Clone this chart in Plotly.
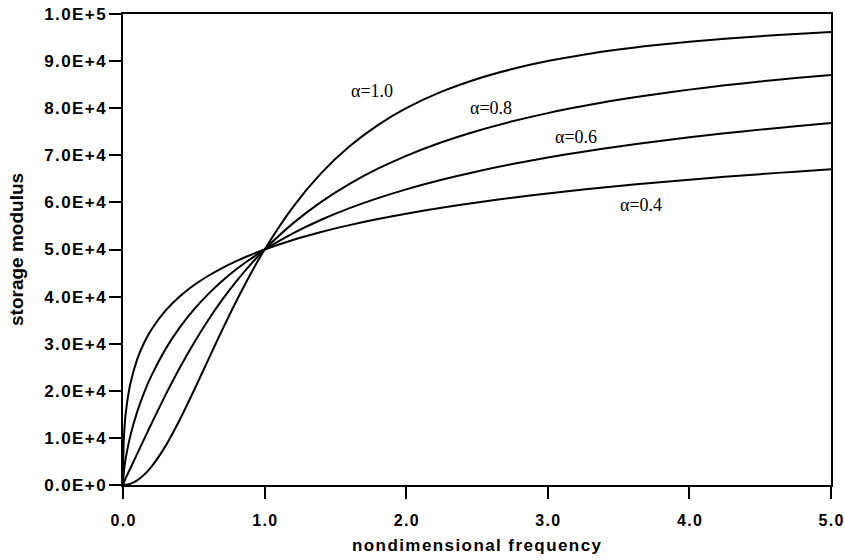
import plotly.graph_objects as go

# nondimensional frequency
freq = [0, 0.005, 0.01, 0.02, 0.05, 0.1, 0.15, 0.2, 0.3, 0.4, 0.5, 0.6, 0.7, 0.8, 0.9,
        1.0, 1.2, 1.4, 1.6, 1.8, 2.0, 2.25, 2.5, 2.75, 3.0, 3.25, 3.5, 3.75, 4.0, 4.25, 4.5, 4.75, 5.0]

# storage modulus for each alpha
e_a10 = [0, 2.5, 10, 40, 249, 990, 2200, 3846, 8257, 13793, 20000, 26471, 32886, 39024, 44751,
         50000, 59016, 66216, 71910, 76415, 80000, 83505, 86207, 88321, 90000, 91351, 92453, 93361,
         94118, 94754, 95294, 95756, 96154]
e_a08 = [0, 462, 826, 1499, 3421, 6598, 9784, 12948, 19082, 24827, 30113, 34927, 39288, 43228, 46786,
         50000, 55546, 60124, 63941, 67154, 69887, 72765, 75173, 77211, 78955, 80461, 81773, 82926,
         83944, 84851, 85662, 86392, 87051]
e_a06 = [0, 2494, 3809, 5827, 10217, 15514, 19668, 23154, 28850, 33420, 37229, 40481, 43306, 45795, 47977,
         50000, 53439, 56319, 58777, 60906, 62772, 64808, 66580, 68139, 69524, 70764, 71882, 72897,
         73823, 74672, 75453, 76176, 76845]
e_a04 = [0, 9233, 11965, 15406, 21221, 26659, 30251, 32971, 37017, 40016, 42401, 44378, 46066, 47535, 48835,
         50000, 52015, 53713, 55176, 56459, 57599, 58864, 59984, 60988, 61895, 62723, 63482, 64182,
         64831, 65436, 66000, 66531, 67029]

series = [e_a10, e_a08, e_a06, e_a04]

label_text = ["\u03b1=1.0", "\u03b1=0.8", "\u03b1=0.6", "\u03b1=0.4"]
label_x = [1.76, 2.60, 3.20, 3.66]
label_y = [83600, 80100, 73900, 59400]

y_ticks = [0, 1e4, 2e4, 3e4, 4e4, 5e4, 6e4, 7e4, 8e4, 9e4, 1e5]
y_ticktext = ["0.0E+0", "1.0E+4", "2.0E+4", "3.0E+4", "4.0E+4", "5.0E+4",
              "6.0E+4", "7.0E+4", "8.0E+4", "9.0E+4", "1.0E+5"]
x_ticks = [0, 1, 2, 3, 4, 5]
x_ticktext = ["0.0", "1.0", "2.0", "3.0", "4.0", "5.0"]

x_title = "nondimensional frequency"
y_title = "storage modulus"

HS = "\u200a"  # hair space for the wide letter spacing of the original


def spaced(s):
    return HS.join(list(s))


sans = "Liberation Sans, Arial, sans-serif"

fig = go.Figure()
for s in series:
    fig.add_trace(go.Scatter(x=freq, y=s, mode="lines",
                             line=dict(color="black", width=2, shape="spline", smoothing=0.8),
                             showlegend=False, hoverinfo="skip"))

for t, lx, ly in zip(label_text, label_x, label_y):
    fig.add_annotation(x=lx, y=ly, text=t, showarrow=False,
                       font=dict(family="Liberation Serif, Times New Roman, serif", size=18, color="black"))

fig.add_annotation(xref="paper", yref="paper", x=0.5, y=-0.128, xanchor="center", yanchor="middle",
                   text="<b>" + spaced(x_title) + "</b>", showarrow=False,
                   font=dict(family=sans, size=17, color="black"))
fig.add_annotation(xref="paper", yref="paper", x=-0.1497, y=0.499, xanchor="center", yanchor="middle",
                   text="<b>" + y_title + "</b>", textangle=-90, showarrow=False,
                   font=dict(family=sans, size=19, color="black"))

fig.update_layout(
    width=844, height=560,
    margin=dict(l=123, r=13, t=14, b=75),
    paper_bgcolor="white", plot_bgcolor="white",
    xaxis=dict(range=[0, 5], tickvals=x_ticks, ticktext=[spaced(t) for t in x_ticktext],
               ticks="outside", ticklen=12, tickwidth=2, tickcolor="black",
               showline=True, linewidth=2, linecolor="black", mirror=True,
               showgrid=False, zeroline=False, automargin=False, ticklabelstandoff=8,
               tickfont=dict(family=sans, size=16, color="black", weight="bold")),
    yaxis=dict(range=[0, 1e5], tickvals=y_ticks, ticktext=[spaced(t) for t in y_ticktext],
               ticks="outside", ticklen=12, tickwidth=2, tickcolor="black",
               showline=True, linewidth=2, linecolor="black", mirror=True,
               showgrid=False, zeroline=False, automargin=False,
               tickfont=dict(family=sans, size=17, color="black", weight="bold")),
)

fig.write_html("out.html", config={"displayModeBar": False},
               post_script="document.body.style.margin='0px';")
